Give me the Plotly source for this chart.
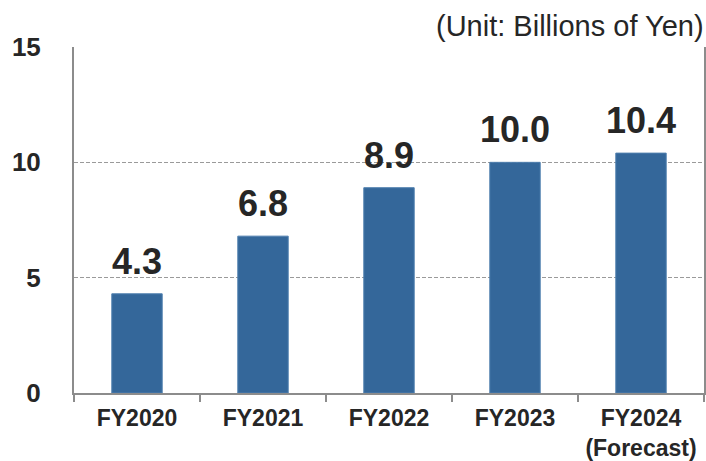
import plotly.graph_objects as go

# Net sales by fiscal year (billions of yen)
categories = ["FY2020", "FY2021", "FY2022", "FY2023", "FY2024<br>(Forecast)"]
values = [4.3, 6.8, 8.9, 10.0, 10.4]
y_ticks = [0, 5, 10, 15]

BAR = "#34679A"
TEXT = "#262626"
AXIS = "#8c8c8c"
FONT = "Liberation Sans, Arial, sans-serif"

fig = go.Figure(
    go.Bar(
        x=categories,
        y=values,
        marker=dict(color=BAR, line=dict(color="#4f7fae", width=1)),
        width=0.4,
        hoverinfo="skip",
    )
)

# value labels above each bar
for c, v in zip(categories, values):
    fig.add_annotation(
        x=c, y=v, text=f"{v:.1f}", showarrow=False,
        yanchor="bottom", yshift=10,
        font=dict(family=FONT, size=36, color=TEXT, weight="bold"),
    )

fig.add_annotation(
    x=1.003, y=1.0, xref="paper", yref="paper",
    xanchor="right", yanchor="bottom", yshift=3,
    text="(Unit: Billions of Yen)", showarrow=False,
    font=dict(family=FONT, size=29, color=TEXT),
)

fig.update_layout(
    width=706, height=461,
    margin=dict(l=74, r=2, t=47, b=68, autoexpand=False),
    plot_bgcolor="white", paper_bgcolor="white",
    showlegend=False,
    font=dict(family=FONT, color=TEXT),
)

fig.update_xaxes(
    type="category", automargin=False, tickangle=0,
    showline=True, linecolor=AXIS, linewidth=2,
    ticks="outside", tickson="boundaries", ticklen=7, tickcolor=AXIS, tickwidth=2,
    ticklabelstandoff=3,
    tickfont=dict(family=FONT, size=23, color=TEXT, weight="bold"),
    showgrid=False,
)

fig.update_yaxes(
    range=[0, 15], tickvals=y_ticks, automargin=False,
    showline=True, linecolor=AXIS, linewidth=2, mirror=True,
    showgrid=True, gridcolor="#9a9a9a", gridwidth=1, griddash="4px,2px",
    zeroline=False,
    ticks="", ticklabelstandoff=26,
    tickfont=dict(family=FONT, size=26, color=TEXT, weight="bold"),
)

fig.write_html("out.html")
